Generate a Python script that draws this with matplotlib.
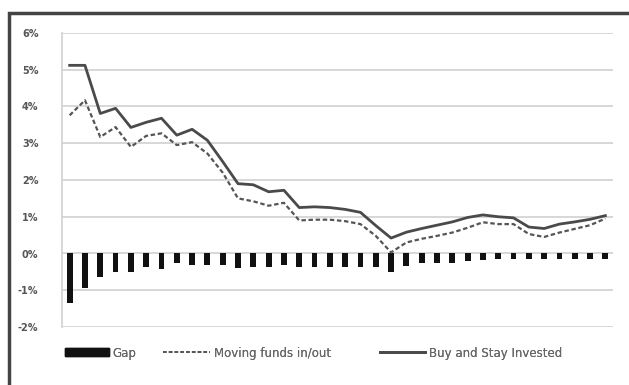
import matplotlib.pyplot as plt
from matplotlib.patches import Rectangle
from matplotlib.lines import Line2D

# values in percent, one per period
buy_stay = [5.12, 5.12, 3.81, 3.95, 3.43, 3.57, 3.68, 3.22, 3.38, 3.08,
            2.5, 1.9, 1.87, 1.68, 1.72, 1.25, 1.27, 1.25, 1.2, 1.12,
            0.76, 0.42, 0.58, 0.68, 0.77, 0.86, 0.98, 1.05, 1.0, 0.97,
            0.72, 0.68, 0.8, 0.86, 0.93, 1.03]
moving = [3.76, 4.17, 3.17, 3.44, 2.9, 3.2, 3.27, 2.95, 3.03, 2.72,
          2.2, 1.5, 1.42, 1.3, 1.38, 0.9, 0.92, 0.92, 0.88, 0.8,
          0.48, 0.03, 0.3, 0.4, 0.48, 0.57, 0.7, 0.85, 0.8, 0.8,
          0.53, 0.45, 0.57, 0.67, 0.77, 0.95]
gap = [-1.35, -0.93, -0.65, -0.49, -0.5, -0.38, -0.43, -0.27, -0.3, -0.3,
       -0.3, -0.4, -0.37, -0.38, -0.32, -0.37, -0.37, -0.38, -0.38, -0.38,
       -0.38, -0.5, -0.33, -0.25, -0.27, -0.27, -0.2, -0.17, -0.16, -0.15,
       -0.15, -0.15, -0.15, -0.15, -0.15, -0.15]
yticks = [-2, -1, 0, 1, 2, 3, 4, 5, 6]
ylabels = ['-2%', '-1%', '0%', '1%', '2%', '3%', '4%', '5%', '6%']

x = list(range(len(gap)))

fig = plt.figure(figsize=(6.29, 3.85), dpi=100)
ax = fig.add_axes([62/629, 1 - 327/385, 551/629, 294/385])

ax.bar(x, gap, width=0.38, color='#111111', zorder=3)
ax.plot(x, moving, color='#555555', lw=1.6, ls=(0, (2, 1.2)), zorder=4)
ax.plot(x, buy_stay, color='#4a4a4a', lw=2.0, zorder=4)

ax.set_xlim(-0.5, len(gap) - 0.5)
ax.set_ylim(-2, 6)
ax.set_yticks(yticks)
ax.set_yticklabels(ylabels, fontsize=7, color='#555555', fontweight='bold')
ax.set_xticks([])
ax.yaxis.grid(True, color='#d4d4d4', lw=1.3)
ax.set_axisbelow(True)
ax.tick_params(axis='y', length=0, pad=17)
for s in ['top', 'right', 'bottom']:
    ax.spines[s].set_visible(False)
ax.spines['left'].set_color('#d4d4d4')
ax.spines['left'].set_linewidth(1.3)

# legend entries placed one by one, like the Excel layout
handles = [Rectangle((0, 0), 1, 1, color='#111111'),
           Line2D([], [], color='#555555', lw=1.3, ls=(0, (2, 1.2))),
           Line2D([], [], color='#4a4a4a', lw=2.0)]
labels = ['Gap', 'Moving funds in/out', 'Buy and Stay Invested']
starts = [65, 163, 380]
hlens = [3.7, 4.0, 3.8]
for h, lab, sx, hl in zip(handles, labels, starts, hlens):
    leg = fig.legend([h], [lab], loc='center left', bbox_to_anchor=(sx/629, 1 - 353/385),
                     frameon=False, fontsize=8.5, labelcolor='#666666', borderpad=0,
                     borderaxespad=0, handlelength=hl, handleheight=0.65, handletextpad=0.35)
    fig.add_artist(leg)

# outer chart border, cut off at right and bottom
fig.patches.append(Rectangle((9/629, -0.05), 1.0, 1 - 13/385 + 0.05, transform=fig.transFigure,
                             fill=False, ec='#444444', lw=2.5))

fig.savefig('out.png', dpi=100)
